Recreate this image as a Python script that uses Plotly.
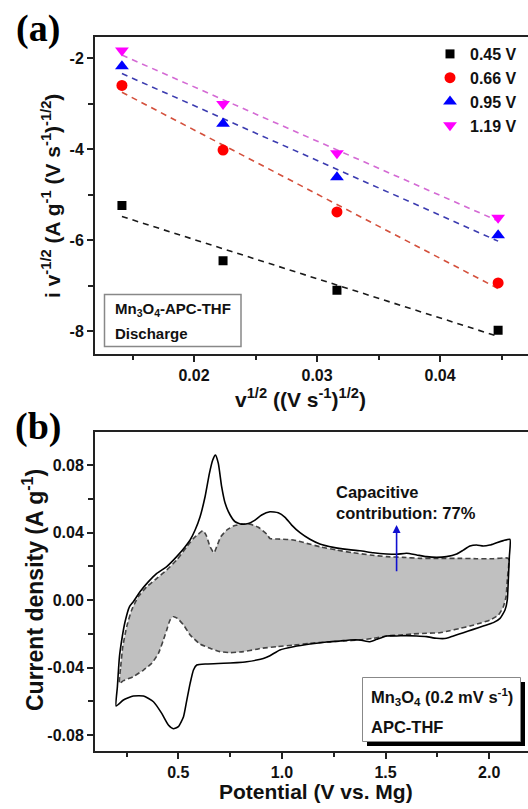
import numpy as np
import plotly.graph_objects as go

W, H = 528, 809

# ---------------- Panel (a) data ----------------
sqrt_v = [0.01414, 0.02236, 0.03162, 0.04472]
series_names = ["0.45 V", "0.66 V", "0.95 V", "1.19 V"]
i_045 = [-5.24, -6.45, -7.10, -7.98]
i_066 = [-2.60, -4.02, -5.38, -6.94]
i_095 = [-2.18, -3.44, -4.62, -5.89]
i_119 = [-1.83, -3.01, -4.09, -5.51]

a_xticks = [0.02, 0.03, 0.04]
a_xtick_text = ["0.02", "0.03", "0.04"]
a_yticks = [-2, -4, -6, -8]
a_ytick_text = ["-2", "-4", "-6", "-8"]

# ---------------- Panel (b) data ----------------
cv_potential = [
    0.200, 0.206, 0.216, 0.227, 0.243, 0.264, 0.283, 0.315, 0.356, 0.396, 0.444, 0.492,
    0.533, 0.557, 0.581, 0.605, 0.629, 0.650, 0.666, 0.679, 0.693, 0.709, 0.726, 0.750,
    0.774, 0.806, 0.838, 0.870, 0.902, 0.942, 0.982, 1.015, 1.047, 1.087, 1.135, 1.183,
    1.248, 1.312, 1.376, 1.441, 1.505, 1.553, 1.601, 1.650, 1.698, 1.746, 1.794, 1.843,
    1.875, 1.907, 1.939, 1.971, 2.003, 2.036, 2.068, 2.100,
    2.097, 2.092, 2.087, 2.076, 2.052, 2.020, 1.971, 1.923, 1.875, 1.827, 1.794, 1.746,
    1.698, 1.650, 1.601, 1.553, 1.505, 1.457, 1.425, 1.376, 1.328, 1.280, 1.216, 1.135,
    1.055, 0.990, 0.942, 0.910, 0.878, 0.830, 0.782, 0.718, 0.637, 0.589, 0.573, 0.557,
    0.541, 0.525, 0.500, 0.476, 0.452, 0.420, 0.380, 0.332, 0.283, 0.235, 0.200,
]
cv_current = [
    -0.0628, -0.0514, -0.0336, -0.0237, -0.0129, -0.0040, -0.0010, 0.0049, 0.0109, 0.0158, 0.0198, 0.0257,
    0.0316, 0.0356, 0.0415, 0.0494, 0.0612, 0.0751, 0.0830, 0.0859, 0.0810, 0.0672, 0.0573, 0.0504,
    0.0464, 0.0450, 0.0454, 0.0474, 0.0504, 0.0523, 0.0517, 0.0490, 0.0444, 0.0399, 0.0360, 0.0332,
    0.0312, 0.0300, 0.0292, 0.0280, 0.0273, 0.0271, 0.0277, 0.0267, 0.0257, 0.0253, 0.0257, 0.0273,
    0.0296, 0.0320, 0.0326, 0.0320, 0.0326, 0.0340, 0.0352, 0.0360,
    0.0257, 0.0119, 0.0000, -0.0059, -0.0109, -0.0134, -0.0154, -0.0174, -0.0194, -0.0213, -0.0227, -0.0227,
    -0.0217, -0.0213, -0.0211, -0.0213, -0.0213, -0.0233, -0.0247, -0.0237, -0.0237, -0.0243, -0.0249, -0.0261,
    -0.0277, -0.0296, -0.0330, -0.0346, -0.0356, -0.0366, -0.0371, -0.0375, -0.0379, -0.0385, -0.0415, -0.0494,
    -0.0593, -0.0692, -0.0751, -0.0763, -0.0741, -0.0672, -0.0603, -0.0569, -0.0569, -0.0593, -0.0628,
]

cap_potential = [
    0.216, 0.222, 0.232, 0.251, 0.275, 0.307, 0.348, 0.396, 0.444, 0.492, 0.541, 0.573,
    0.597, 0.618, 0.634, 0.653, 0.672, 0.685, 0.705, 0.734, 0.766, 0.806, 0.846, 0.886,
    0.927, 0.942, 0.991, 1.055, 1.119, 1.183, 1.264, 1.344, 1.425, 1.505, 1.585, 1.666,
    1.746, 1.859, 1.939, 2.020, 2.092,
    2.087, 2.081, 2.068, 2.044, 2.003, 1.955, 1.907, 1.859, 1.810, 1.762, 1.698, 1.634,
    1.569, 1.505, 1.441, 1.376, 1.296, 1.216, 1.135, 1.055, 0.974, 0.894, 0.878, 0.814,
    0.750, 0.701, 0.653, 0.605, 0.557, 0.525, 0.496, 0.476, 0.460, 0.444, 0.428, 0.404,
    0.372, 0.332, 0.283, 0.235, 0.216,
]
cap_current = [
    -0.0494, -0.0395, -0.0277, -0.0158, -0.0059, 0.0020, 0.0079, 0.0128, 0.0178, 0.0237, 0.0316, 0.0365,
    0.0391, 0.0411, 0.0385, 0.0316, 0.0280, 0.0316, 0.0375, 0.0415, 0.0439, 0.0450, 0.0450, 0.0431,
    0.0390, 0.0365, 0.0361, 0.0356, 0.0336, 0.0316, 0.0296, 0.0280, 0.0267, 0.0257, 0.0253, 0.0247,
    0.0247, 0.0247, 0.0245, 0.0245, 0.0247,
    0.0119, 0.0020, -0.0040, -0.0089, -0.0119, -0.0138, -0.0154, -0.0168, -0.0182, -0.0194, -0.0197, -0.0201,
    -0.0207, -0.0213, -0.0227, -0.0237, -0.0243, -0.0249, -0.0257, -0.0267, -0.0277, -0.0287, -0.0292, -0.0306,
    -0.0312, -0.0306, -0.0286, -0.0261, -0.0207, -0.0148, -0.0109, -0.0099, -0.0119, -0.0178, -0.0237, -0.0316,
    -0.0375, -0.0415, -0.0454, -0.0478, -0.0494,
]

b_xticks = [0.5, 1.0, 1.5, 2.0]
b_xtick_text = ["0.5", "1.0", "1.5", "2.0"]
b_yticks = [0.08, 0.04, 0.0, -0.04, -0.08]
b_ytick_text = ["0.08", "0.04", "0.00", "-0.04", "-0.08"]

arrow_potential = 1.553
arrow_from, arrow_to = 0.0162, 0.0444

FONT = "Liberation Sans"


def px(x):
    return x / W


def py(y):
    return 1 - y / H


def b(lst):
    return ["<b>%s</b>" % s for s in lst]


fig = go.Figure()

marker_colors = ["#000000", "#ff0000", "#0000ff", "#ff00ff"]
line_colors = ["#1a1a1a", "#d4503c", "#3c3cb0", "#d46ad4"]
symbols = ["square", "circle", "triangle-up", "triangle-down"]
sizes = [9, 11, 12, 12]
all_series = [i_045, i_066, i_095, i_119]

for name, ys, lc in zip(series_names, all_series, line_colors):
    k, c = np.polyfit(sqrt_v, ys, 1)
    xf = [sqrt_v[0], sqrt_v[-1]]
    yf = [k * xv + c for xv in xf]
    fig.add_trace(go.Scatter(x=xf, y=yf, mode="lines", showlegend=False,
                             line=dict(color=lc, width=1.6, dash="6px,5px"),
                             xaxis="x", yaxis="y"))
for name, ys, mc, sym, sz in zip(series_names, all_series, marker_colors, symbols, sizes):
    fig.add_trace(go.Scatter(x=sqrt_v, y=ys, mode="markers", name="<b>%s</b>" % name,
                             marker=dict(symbol=sym, size=sz, color=mc, line=dict(width=0)),
                             xaxis="x", yaxis="y"))

# Panel (b)
fig.add_trace(go.Scatter(x=cap_potential, y=cap_current, mode="lines", fill="toself",
                         fillcolor="#c0c0c0", showlegend=False,
                         line=dict(color="#444444", width=1.6, dash="5px,3px", shape="spline", smoothing=0.5),
                         xaxis="x2", yaxis="y2"))
fig.add_trace(go.Scatter(x=cv_potential, y=cv_current, mode="lines", showlegend=False,
                         line=dict(color="#000000", width=1.6, shape="spline", smoothing=0.5),
                         xaxis="x2", yaxis="y2"))

tickfont = dict(family=FONT, size=16, color="#111")

common_axis = dict(showgrid=False, zeroline=False, showline=True, linecolor="#222", linewidth=2,
                   ticks="outside", ticklen=6, tickwidth=1.5, tickcolor="#222", tickfont=tickfont)

fig.update_layout(
    width=W, height=H,
    margin=dict(l=0, r=0, t=0, b=0),
    paper_bgcolor="white", plot_bgcolor="white",
    font=dict(family=FONT, color="#111"),
    xaxis=dict(domain=[px(95), 1.0], range=[0.01195, 0.04715], anchor="y",
               tickmode="array", tickvals=a_xticks, ticktext=b(a_xtick_text), mirror=True,
               minor=dict(ticks="outside", ticklen=4, tickwidth=1.5, tickcolor="#222",
                          tickmode="array", tickvals=[0.015, 0.025, 0.035, 0.045]),
               **common_axis),
    yaxis=dict(domain=[py(353.5), py(36.5)], range=[-8.49, -1.525], anchor="x",
               tickmode="array", tickvals=a_yticks, ticktext=b(a_ytick_text),
               minor=dict(ticks="outside", ticklen=5, tickwidth=1.5, tickcolor="#222",
                          tickmode="array", tickvals=[-3, -5, -7]),
               **common_axis),
    xaxis2=dict(domain=[px(95), 1.0], range=[0.098, 2.187], anchor="y2",
                tickmode="array", tickvals=b_xticks, ticktext=b(b_xtick_text), mirror=True,
                minor=dict(ticks="outside", ticklen=4, tickwidth=1.5, tickcolor="#222",
                           tickmode="array", tickvals=[0.25, 0.75, 1.25, 1.75]),
                **common_axis),
    yaxis2=dict(domain=[py(751), py(432)], range=[-0.0895, 0.0996], anchor="x2",
                tickmode="array", tickvals=b_yticks, ticktext=b(b_ytick_text),
                minor=dict(ticks="outside", ticklen=5, tickwidth=1.5, tickcolor="#222",
                           tickmode="array", tickvals=[0.06, 0.02, -0.02, -0.06]),
                **common_axis),
    legend=dict(x=px(430), y=py(37), xanchor="left", yanchor="top",
                font=dict(family=FONT, size=16, color="#111"),
                bgcolor="rgba(0,0,0,0)", itemwidth=30, tracegroupgap=0),
)

shapes = [
    # box in panel (a)
    dict(type="rect", xref="paper", yref="paper", x0=px(104.5), x1=px(241), y0=py(346.5), y1=py(294.5),
         line=dict(color="#888", width=1.5), fillcolor="white", layer="above"),
    # shadow + box in panel (b)
    dict(type="rect", xref="paper", yref="paper", x0=px(367), x1=px(525), y0=py(746), y1=py(682),
         line=dict(width=0), fillcolor="black", layer="above"),
    dict(type="rect", xref="paper", yref="paper", x0=px(362.5), x1=px(520.5), y0=py(741.5), y1=py(677.5),
         line=dict(color="#888", width=1), fillcolor="white", layer="above"),
]
fig.update_layout(shapes=shapes)

bold = dict(family=FONT, color="#111", weight="bold")
ann = []
ann.append(dict(text="(a)", x=px(38), y=py(28), xref="paper", yref="paper", showarrow=False,
                xanchor="center", yanchor="middle",
                font=dict(family="Liberation Serif", size=38, color="#000", weight="bold")))
ann.append(dict(text="(b)", x=px(38), y=py(426), xref="paper", yref="paper", showarrow=False,
                xanchor="center", yanchor="middle",
                font=dict(family="Liberation Serif", size=38, color="#000", weight="bold")))
ann.append(dict(text="i v<sup>-1/2</sup> (A g<sup>-1</sup> (V s<sup>-1</sup>)<sup>-1/2</sup>)",
                x=px(51), y=py(196), xref="paper", yref="paper", showarrow=False, textangle=-90,
                xanchor="center", yanchor="middle", font=dict(size=21, **bold)))
ann.append(dict(text="v<sup>1/2</sup> ((V s<sup>-1</sup>)<sup>1/2</sup>)",
                x=px(300), y=py(398), xref="paper", yref="paper", showarrow=False,
                xanchor="center", yanchor="middle", font=dict(size=21, **bold)))
ann.append(dict(text="Current density (A g<sup>-1</sup>)",
                x=px(33), y=py(590), xref="paper", yref="paper", showarrow=False, textangle=-90,
                xanchor="center", yanchor="middle", font=dict(size=23, **bold)))
ann.append(dict(text="Potential (V vs. Mg)",
                x=px(316), y=py(791), xref="paper", yref="paper", showarrow=False,
                xanchor="center", yanchor="middle", font=dict(size=21, **bold)))
ann.append(dict(text="Mn<sub>3</sub>O<sub>4</sub>-APC-THF", x=px(113), y=py(309), xref="paper", yref="paper",
                showarrow=False, xanchor="left", yanchor="middle", font=dict(size=15, **bold)))
ann.append(dict(text="Discharge", x=px(113), y=py(333), xref="paper", yref="paper",
                showarrow=False, xanchor="left", yanchor="middle", font=dict(size=15, **bold)))
ann.append(dict(text="Mn<sub>3</sub>O<sub>4</sub> (0.2 mV s<sup>-1</sup>)", x=px(369), y=py(697),
                xref="paper", yref="paper", showarrow=False, xanchor="left", yanchor="middle",
                font=dict(size=16.5, **bold)))
ann.append(dict(text="APC-THF", x=px(369), y=py(727), xref="paper", yref="paper",
                showarrow=False, xanchor="left", yanchor="middle", font=dict(size=16.5, **bold)))
ann.append(dict(text="Capacitive<br>contribution: 77%", x=px(334), y=py(503), xref="paper", yref="paper",
                showarrow=False, xanchor="left", yanchor="middle", align="left",
                font=dict(size=16.5, **bold)))
ann.append(dict(x=arrow_potential, y=arrow_to, ax=arrow_potential, ay=arrow_from,
                xref="x2", yref="y2", axref="x2", ayref="y2", text="", showarrow=True,
                arrowhead=2, arrowsize=1, arrowwidth=1.6, arrowcolor="#1010d0"))
fig.update_layout(annotations=ann)

fig.write_html("out.html")
